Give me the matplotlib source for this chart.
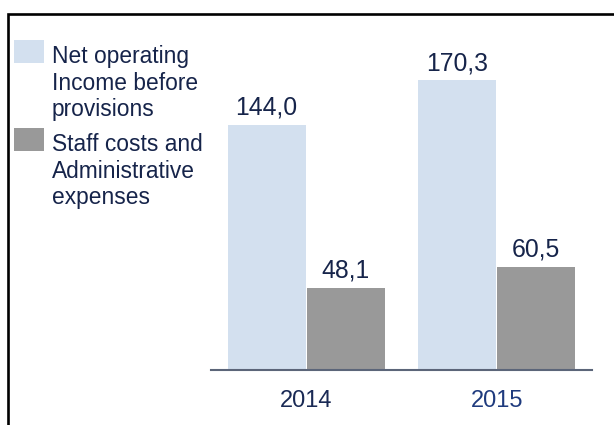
import matplotlib
matplotlib.use("Agg")
import matplotlib.pyplot as plt
from matplotlib.patches import Rectangle
import numpy as np

# Data
years = ["2014", "2015"]
series_names = ["Net operating\nIncome before\nprovisions",
                "Staff costs and\nAdministrative\nexpenses"]
net_income = [144.0, 170.3]
staff_costs = [48.1, 60.5]
value_labels_income = ["144,0", "170,3"]
value_labels_costs = ["48,1", "60,5"]

# Styling
light_blue = "#d3e0ef"
grey = "#999999"
navy = "#16244a"
year_colors = ["#1a2a55", "#1f3b7e"]
plt.rcParams["font.family"] = ["Liberation Sans", "DejaVu Sans"]

W, H = 614, 425
fig = plt.figure(figsize=(W / 100, H / 100), dpi=100)

# Frame around the panel (open to the right and bottom)
fig.patches.append(Rectangle((8 / W, -0.2), 1.2, (H - 14) / H + 0.2,
                             transform=fig.transFigure, fill=False,
                             edgecolor="black", linewidth=1.9, zorder=0))

ax = fig.add_axes([211 / W, 55.5 / H, 381 / W, 349.5 / H])
x = np.arange(len(years))
w = 0.41
off = 0.208
ax.bar(x - off, net_income, width=w, color=light_blue, linewidth=0)
ax.bar(x + off, staff_costs, width=w, color=grey, linewidth=0)

for xi, v, lab in zip(x - off, net_income, value_labels_income):
    ax.annotate(lab, (xi, v), xytext=(0, 3.5), textcoords="offset points",
                ha="center", va="bottom", fontsize=17.8, color=navy)
for xi, v, lab in zip(x + off, staff_costs, value_labels_costs):
    ax.annotate(lab, (xi, v), xytext=(0, 3.5), textcoords="offset points",
                ha="center", va="bottom", fontsize=17.8, color=navy)

ax.set_xlim(-0.5, 1.5)
ax.set_ylim(0, 349.5 / 1.70)
ax.set_xticks(x)
ax.set_xticklabels(years, fontsize=17)
for t, c in zip(ax.get_xticklabels(), year_colors):
    t.set_color(c)
ax.tick_params(axis="x", length=0, pad=15)
ax.set_yticks([])
for s in ["top", "right", "left"]:
    ax.spines[s].set_visible(False)
ax.spines["bottom"].set_color("#5b6579")
ax.spines["bottom"].set_linewidth(1.5)
ax.patch.set_alpha(0)

# Legend drawn at the left of the panel
legend_colors = [light_blue, grey]
swatch_tops = [40, 128]
line_gap = 26.7
for name, col, top in zip(series_names, legend_colors, swatch_tops):
    fig.patches.append(Rectangle((14 / W, 1 - (top + 23) / H), 30 / W, 23 / H,
                                 transform=fig.transFigure, facecolor=col,
                                 edgecolor="none"))
    for i, line in enumerate(name.split("\n")):
        base = top + 23 + i * line_gap
        fig.text(52 / W, 1 - base / H, line, fontsize=16.4, color=navy,
                 ha="left", va="baseline")

fig.savefig("out.png", dpi=100)
